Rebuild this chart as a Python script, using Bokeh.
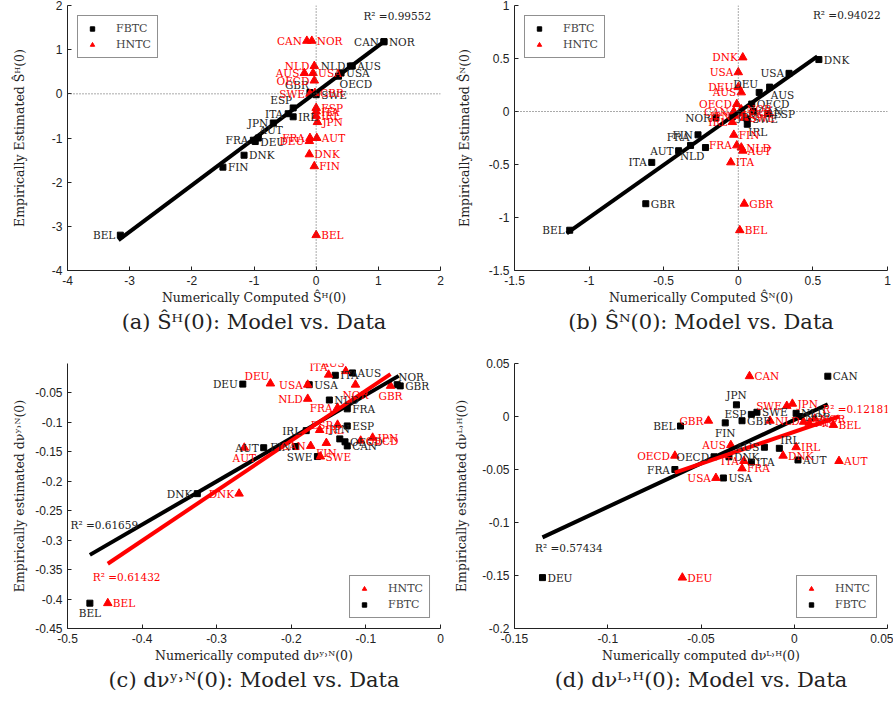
from bokeh.plotting import figure
from bokeh.models import (ColumnDataSource, Span, Legend, LegendItem, FixedTicker,
                          Title, Label)
from bokeh.layouts import gridplot
from bokeh.core.properties import value
from bokeh.embed import file_html
from bokeh.resources import INLINE

SERIF = "DejaVu Serif"
SANS = "Liberation Sans"
RED = "#ff0000"
BLACK = "#000000"

# ---------------- Panel (a): S^H(0) ----------------
a_f_names = ["BEL", "FIN", "DNK", "FRA", "AUT", "DEU", "JPN", "ITA", "ESP", "IRL",
             "GBR", "SWE", "NLD", "AUS", "USA", "OECD", "CAN", "NOR"]
a_f_x = [-3.15, -1.50, -1.16, -1.01, -0.93, -0.98, -0.69, -0.45, -0.37, -0.37,
         -0.10, 0.00, 0.55, 0.58, 0.40, 0.36, 1.09, 1.09]
a_f_y = [-3.20, -1.66, -1.39, -1.05, -1.00, -1.08, -0.66, -0.45, -0.32, -0.52,
         0.03, -0.02, 0.63, 0.63, 0.47, 0.40, 1.18, 1.18]
a_h_names = ["CAN", "NOR", "NLD", "AUS", "USA", "OECD", "SWE", "GBR", "ESP", "ITA",
             "IRL", "JPN", "FRA", "AUT", "DEU", "DNK", "FIN", "BEL"]
a_h_x = [-0.15, -0.07, -0.03, -0.19, -0.05, -0.03, -0.10, -0.02, 0.00, 0.00,
         0.00, 0.02, -0.10, 0.01, -0.11, -0.11, -0.03, 0.00]
a_h_y = [1.20, 1.20, 0.63, 0.47, 0.47, 0.30, 0.00, 0.02, -0.32, -0.40,
         -0.50, -0.64, -1.00, -1.00, -1.07, -1.37, -1.64, -3.20]
a_fit_x = [-3.18, 1.09]
a_fit_y = [-3.31, 1.18]
a_r2 = "0.99552"
a_ticks = [-4, -3, -2, -1, 0, 1, 2]
a_tick_labels = ["-4", "-3", "-2", "-1", "0", "1", "2"]

# ---------------- Panel (b): S^N(0) ----------------
b_f_names = ["BEL", "GBR", "ITA", "AUT", "FRA", "FIN", "NLD", "NOR", "JPN", "USA",
             "DNK", "DEU", "AUS", "OECD", "CAN", "ESP", "SWE", "IRL"]
b_f_x = [-1.13, -0.62, -0.58, -0.40, -0.32, -0.27, -0.22, -0.15, -0.04, 0.34,
         0.54, 0.14, 0.21, 0.09, 0.10, 0.20, 0.06, 0.06]
b_f_y = [-1.12, -0.87, -0.48, -0.37, -0.32, -0.22, -0.34, -0.06, -0.05, 0.36,
         0.49, 0.18, 0.23, 0.07, 0.00, -0.02, -0.07, -0.12]
b_h_names = ["DNK", "USA", "DEU", "AUS", "OECD", "CAN", "JPN", "NOR", "ESP", "SWE",
             "IRL", "FIN", "FRA", "NLD", "AUT", "ITA", "GBR", "BEL"]
b_h_x = [0.03, 0.00, 0.00, 0.02, -0.01, -0.03, -0.02, 0.02, 0.03, 0.04,
         -0.04, -0.03, -0.01, 0.02, 0.03, -0.05, 0.04, 0.01]
b_h_y = [0.51, 0.37, 0.23, 0.18, 0.07, 0.00, -0.04, 0.02, -0.02, -0.06,
         -0.10, -0.22, -0.32, -0.34, -0.37, -0.48, -0.87, -1.12]
b_fit_x = [-1.15, 0.53]
b_fit_y = [-1.15, 0.52]
b_r2 = "0.94022"
b_ticks = [-1.5, -1.0, -0.5, 0.0, 0.5, 1.0]
b_tick_labels = ["-1.5", "-1", "-0.5", "0", "0.5", "1"]

# ---------------- Panel (c): dnu^{Y,N}(0) ----------------
c_f_names = ["AUS", "ITA", "USA", "DEU", "NOR", "GBR", "NLD", "FRA", "ESP", "IRL",
             "JPN", "OECD", "CAN", "FIN", "SWE", "AUT", "DNK", "BEL"]
c_f_x = [-0.118, -0.141, -0.176, -0.265, -0.058, -0.054, -0.149, -0.125, -0.125, -0.180,
         -0.135, -0.128, -0.125, -0.194, -0.165, -0.237, -0.326, -0.470]
c_f_y = [-0.016, -0.020, -0.036, -0.035, -0.036, -0.038, -0.062, -0.077, -0.106, -0.114,
         -0.128, -0.133, -0.140, -0.141, -0.158, -0.143, -0.221, -0.407]
c_h_names = ["AUS", "ITA", "DEU", "USA", "NLD", "FRA", "NOR", "GBR", "ESP", "IRL",
             "CAN", "FIN", "OECD", "JPN", "SWE", "AUT", "DNK", "BEL"]
c_h_x = [-0.127, -0.150, -0.228, -0.178, -0.178, -0.138, -0.114, -0.067, -0.138, -0.162,
         -0.174, -0.153, -0.107, -0.091, -0.161, -0.263, -0.270, -0.446]
c_h_y = [-0.013, -0.019, -0.034, -0.036, -0.060, -0.075, -0.036, -0.038, -0.104, -0.113,
         -0.140, -0.135, -0.131, -0.126, -0.158, -0.143, -0.221, -0.407]
c_fit_f_x = [-0.470, -0.056]
c_fit_f_y = [-0.325, -0.021]
c_fit_h_x = [-0.446, -0.067]
c_fit_h_y = [-0.340, -0.018]
c_r2_f = "0.61659"
c_r2_h = "0.61432"
c_xticks = [-0.5, -0.4, -0.3, -0.2, -0.1, 0.0]
c_xtick_labels = ["-0.5", "-0.4", "-0.3", "-0.2", "-0.1", "0"]
c_yticks = [-0.45, -0.4, -0.35, -0.3, -0.25, -0.2, -0.15, -0.1, -0.05]
c_ytick_labels = ["-0.45", "-0.4", "-0.35", "-0.3", "-0.25", "-0.2", "-0.15", "-0.1", "-0.05"]

# ---------------- Panel (d): dnu^{L,H}(0) ----------------
d_f_names = ["CAN", "JPN", "ESP", "SWE", "BEL", "FIN", "GBR", "NOR", "NLD", "DEU",
             "AUS", "IRL", "OECD", "DNK", "ITA", "AUT", "FRA", "USA"]
d_f_x = [0.018, -0.031, -0.023, -0.020, -0.061, -0.037, -0.028, 0.003, 0.001, -0.135,
         -0.016, -0.008, -0.043, -0.035, -0.023, 0.002, -0.064, -0.038]
d_f_y = [0.038, 0.011, 0.002, 0.004, -0.009, -0.006, -0.004, 0.000, 0.003, -0.152,
         -0.029, -0.030, -0.038, -0.038, -0.043, -0.041, -0.050, -0.058]
d_h_names = ["CAN", "JPN", "SWE", "GBR", "NLD", "NOR", "ESP", "FIN", "BEL", "AUS",
             "OECD", "ITA", "FRA", "USA", "DNK", "IRL", "AUT", "DEU"]
d_h_x = [-0.024, -0.001, -0.004, -0.046, -0.013, 0.011, 0.005, 0.008, 0.021, -0.034,
         -0.064, -0.027, -0.028, -0.042, -0.006, 0.001, 0.024, -0.060]
d_h_y = [0.038, 0.012, 0.010, -0.004, -0.004, -0.002, -0.005, -0.006, -0.008, -0.027,
         -0.037, -0.042, -0.049, -0.058, -0.037, -0.029, -0.042, -0.152]
d_fit_f_x = [-0.135, 0.018]
d_fit_f_y = [-0.114, 0.0115]
d_fit_h_x = [-0.064, 0.024]
d_fit_h_y = [-0.053, 0.000]
d_r2_f = "0.57434"
d_r2_h = "0.12181"
d_xticks = [-0.15, -0.1, -0.05, 0.0, 0.05]
d_xtick_labels = ["-0.15", "-0.1", "-0.05", "0", "0.05"]
d_yticks = [-0.2, -0.15, -0.1, -0.05, 0.0, 0.05]
d_ytick_labels = ["-0.2", "-0.15", "-0.1", "-0.05", "0", "0.05"]

# ---------------- label placement (style, not data) ----------------
A_F_SIDE = {"BEL": "L", "FRA": "L", "AUT": "UR", "JPN": "L", "ITA": "L", "ESP": "UL",
            "GBR": "UL", "NLD": "L", "OECD": "BR", "CAN": "L", "SWE": "R"}
A_H_SIDE = {"CAN": "L", "NLD": "L", "AUS": "L", "OECD": "L", "SWE": "L", "FRA": "L",
            "DEU": "L"}
B_F_SIDE = {"BEL": "L", "ITA": "L", "AUT": "L", "FRA": "UL", "FIN": "L", "NLD": "BL",
            "NOR": "L", "USA": "L", "DEU": "UL", "AUS": "BR", "IRL": "BR"}
B_H_SIDE = {"DNK": "L", "USA": "L", "DEU": "L", "AUS": "L", "OECD": "L", "CAN": "L",
            "JPN": "L", "IRL": "L", "FRA": "L"}
C_F_SIDE = {"DEU": "L", "NOR": "UR", "IRL": "L", "JPN": "U", "FIN": "L", "SWE": "L",
            "AUT": "L", "DNK": "L", "BEL": "B"}
C_H_SIDE = {"AUS": "UL", "ITA": "UL", "DEU": "UL", "USA": "L", "NLD": "L", "FRA": "L",
            "NOR": "B", "GBR": "B", "ESP": "L", "CAN": "L", "FIN": "B", "AUT": "B",
            "DNK": "L"}
D_F_SIDE = {"JPN": "U", "ESP": "L", "BEL": "L", "FIN": "B", "AUS": "L", "IRL": "UR",
            "OECD": "L", "FRA": "L"}
D_H_SIDE = {"SWE": "L", "GBR": "L", "AUS": "L", "OECD": "L", "ITA": "L", "USA": "L"}

OFF = {
    "R": ("left", "middle", 5, 0),
    "L": ("right", "middle", -5, 0),
    "UL": ("right", "bottom", -1, -2),
    "UR": ("left", "bottom", 1, -2),
    "BL": ("right", "top", -1, 2),
    "BR": ("left", "top", 1, 2),
    "B": ("center", "top", 0, 4),
    "U": ("center", "bottom", 0, -4),
}

LBL_SIZE = "10.5px"


def add_labels(p, names, xs, ys, sides, color):
    for key, (al, bl, dx, dy) in OFF.items():
        idx = [i for i, n in enumerate(names) if sides.get(n, "R") == key]
        if not idx:
            continue
        src = ColumnDataSource(dict(x=[xs[i] for i in idx], y=[ys[i] for i in idx],
                                    t=[names[i] for i in idx]))
        p.text("x", "y", text="t", source=src, text_align=al, text_baseline=bl,
               x_offset=dx, y_offset=dy, text_font=value(SERIF),
               text_font_size=LBL_SIZE, text_color=color)


def make_panel(xr, yr, xt, xtl, yt, ytl, xlab, ylab, caption, w, h, bl, br, bt, bb,
               ystand):
    p = figure(width=w, height=h, x_range=xr, y_range=yr, output_backend="svg",
               toolbar_location=None, min_border_left=bl, min_border_right=br,
               min_border_top=bt, min_border_bottom=bb)
    p.grid.visible = False
    p.outline_line_color = None
    p.background_fill_color = "white"
    p.border_fill_color = "white"
    for ax, ticks, labels in ((p.xaxis[0], xt, xtl), (p.yaxis[0], yt, ytl)):
        ax.ticker = FixedTicker(ticks=ticks)
        ax.major_label_overrides = {t: s for t, s in zip(ticks, labels)}
        ax.minor_tick_line_color = None
        ax.major_tick_in = 4
        ax.major_tick_out = 0
        ax.major_label_text_font = SANS
        ax.major_label_text_font_size = "12px"
        ax.major_label_text_color = "#222222"
        ax.axis_line_color = "#222222"
        ax.major_tick_line_color = "#222222"
        ax.axis_label_text_font = SERIF
        ax.axis_label_text_font_size = "12.5px"
        ax.axis_label_text_font_style = "normal"
        ax.axis_label_text_color = "#222222"
    p.xaxis.axis_label = xlab
    p.yaxis.axis_label = ylab
    p.xaxis.axis_label_standoff = 2
    p.yaxis.axis_label_standoff = ystand
    p.add_layout(Title(text=caption, align="center", text_font=SERIF,
                       text_font_size="21px", text_font_style="normal",
                       text_color="#222222", standoff=1), "below")
    return p


def add_legend(p, items, loc):
    lg = Legend(items=items, location=loc)
    lg.border_line_color = "#222222"
    lg.border_line_width = 1
    lg.label_text_font = SERIF
    lg.label_text_font_size = "11px"
    lg.glyph_width = 16
    lg.glyph_height = 11
    lg.label_height = 11
    lg.spacing = 3
    lg.padding = 6
    lg.margin = 10
    lg.label_standoff = 16
    p.add_layout(lg)


def scatter_pair(p, fx, fy, hx, hy):
    rf = p.scatter(fx, fy, marker="square", size=6, color=BLACK)
    rh = p.scatter(hx, hy, marker="triangle", size=8.5, color=RED)
    return rf, rh


def r2_label(p, x, y, txt, color):
    p.add_layout(Label(x=x, y=y, text="R² =" + txt, text_font=SERIF,
                       text_font_size=LBL_SIZE, text_color=color,
                       text_baseline="middle"))


# ---------- build (a) ----------
pa = make_panel((-4, 2), (-4, 2), a_ticks, a_tick_labels, a_ticks, a_tick_labels,
                "Numerically Computed Ŝᴴ(0)", "Empirically Estimated Ŝᴴ(0)",
                "(a) Ŝᴴ(0): Model vs. Data", 446, 351, 67, 6, 5, 81, 22)
pa.add_layout(Span(location=0, dimension="height", line_dash="1 2", line_color="#555555"))
pa.add_layout(Span(location=0, dimension="width", line_dash="1 2", line_color="#555555"))
raf, rah = scatter_pair(pa, a_f_x, a_f_y, a_h_x, a_h_y)
pa.line(a_fit_x, a_fit_y, line_width=4, color=BLACK)
add_labels(pa, a_f_names, a_f_x, a_f_y, A_F_SIDE, "#222222")
add_labels(pa, a_h_names, a_h_x, a_h_y, A_H_SIDE, RED)
r2_label(pa, 0.76, 1.77, a_r2, "#222222")
add_legend(pa, [LegendItem(label="FBTC", renderers=[raf]),
                LegendItem(label="HNTC", renderers=[rah])], "top_left")

# ---------- build (b) ----------
pb = make_panel((-1.5, 1), (-1.5, 1), b_ticks, b_tick_labels, b_ticks, b_tick_labels,
                "Numerically Computed Ŝᴺ(0)", "Empirically Estimated Ŝᴺ(0)",
                "(b) Ŝᴺ(0): Model vs. Data", 447, 351, 68, 6, 5, 81, 14)
pb.add_layout(Span(location=0, dimension="height", line_dash="1 2", line_color="#555555"))
pb.add_layout(Span(location=0, dimension="width", line_dash="1 2", line_color="#555555"))
rbf, rbh = scatter_pair(pb, b_f_x, b_f_y, b_h_x, b_h_y)
pb.line(b_fit_x, b_fit_y, line_width=4, color=BLACK)
add_labels(pb, b_f_names, b_f_x, b_f_y, B_F_SIDE, "#222222")
add_labels(pb, b_h_names, b_h_x, b_h_y, B_H_SIDE, RED)
r2_label(pb, 0.50, 0.91, b_r2, "#222222")
add_legend(pb, [LegendItem(label="FBTC", renderers=[rbf]),
                LegendItem(label="HNTC", renderers=[rbh])], "top_left")

# ---------- build (c) ----------
pc = make_panel((-0.5, 0), (-0.45, 0.0), c_xticks, c_xtick_labels, c_yticks, c_ytick_labels,
                "Numerically computed dνʸ˒ᴺ(0)", "Empirically estimated dνʸ˒ᴺ(0)",
                "(c) dνʸ˒ᴺ(0): Model vs. Data", 446, 351, 67, 6, 12, 74, 5)
rcf, rch = scatter_pair(pc, c_f_x, c_f_y, c_h_x, c_h_y)
pc.line(c_fit_f_x, c_fit_f_y, line_width=4, color=BLACK)
pc.line(c_fit_h_x, c_fit_h_y, line_width=4, color=RED)
add_labels(pc, c_f_names, c_f_x, c_f_y, C_F_SIDE, "#222222")
add_labels(pc, c_h_names, c_h_x, c_h_y, C_H_SIDE, RED)
r2_label(pc, -0.496, -0.275, c_r2_f, "#222222")
r2_label(pc, -0.466, -0.362, c_r2_h, RED)
add_legend(pc, [LegendItem(label="HNTC", renderers=[rch]),
                LegendItem(label="FBTC", renderers=[rcf])], "bottom_right")

# ---------- build (d) ----------
pd_ = make_panel((-0.15, 0.05), (-0.2, 0.05), d_xticks, d_xtick_labels, d_yticks, d_ytick_labels,
                 "Numerically computed dνᴸ˒ᴴ(0)", "Empirically estimated dνᴸ˒ᴴ(0)",
                 "(d) dνᴸ˒ᴴ(0): Model vs. Data", 447, 351, 68, 6, 12, 74, 10)
rdf, rdh = scatter_pair(pd_, d_f_x, d_f_y, d_h_x, d_h_y)
pd_.line(d_fit_f_x, d_fit_f_y, line_width=4, color=BLACK)
pd_.line(d_fit_h_x, d_fit_h_y, line_width=4, color=RED)
add_labels(pd_, d_f_names, d_f_x, d_f_y, D_F_SIDE, "#222222")
add_labels(pd_, d_h_names, d_h_x, d_h_y, D_H_SIDE, RED)
r2_label(pd_, -0.139, -0.124, d_r2_f, "#222222")
r2_label(pd_, 0.015, 0.0075, d_r2_h, RED)
add_legend(pd_, [LegendItem(label="HNTC", renderers=[rdh]),
                 LegendItem(label="FBTC", renderers=[rdf])], "bottom_right")

grid = gridplot([[pa, pb], [pc, pd_]], toolbar_location=None)
open("out.html", "w").write(file_html(grid, INLINE))
